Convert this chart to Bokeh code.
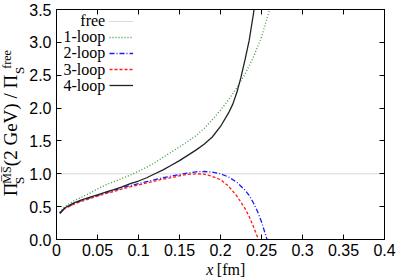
import math
from bokeh.plotting import figure
from bokeh.layouts import row, column
from bokeh.models import (Range1d, LinearAxis, FixedTicker, CustomJSTickFormatter,
                          Label, Legend, LegendItem)
from bokeh.core.properties import value
from bokeh.embed import file_html
from bokeh.resources import INLINE

# ---------------- data ----------------
x_free = [0.0, 0.4]
y_free = [1.0, 1.0]

x_1loop = [0.004, 0.01, 0.02, 0.03, 0.04, 0.05, 0.06, 0.07, 0.08, 0.09, 0.10, 0.11, 0.12,
           0.13, 0.14, 0.15, 0.16, 0.17, 0.18, 0.19, 0.20, 0.21, 0.22, 0.23, 0.24, 0.25,
           0.26, 0.265]
y_1loop = [0.41, 0.50, 0.58, 0.64, 0.70, 0.77, 0.83, 0.88, 0.93, 0.98, 1.04, 1.10, 1.17,
           1.25, 1.33, 1.41, 1.49, 1.58, 1.69, 1.82, 1.97, 2.13, 2.31, 2.52, 2.77, 3.08,
           3.50, 3.75]

x_2loop = [0.004, 0.01, 0.02, 0.03, 0.04, 0.05, 0.06, 0.07, 0.08, 0.09, 0.10, 0.11, 0.12,
           0.13, 0.14, 0.15, 0.16, 0.17, 0.18, 0.19, 0.20, 0.21, 0.22, 0.23, 0.235, 0.24,
           0.245, 0.25, 0.255, 0.258]
y_2loop = [0.40, 0.47, 0.54, 0.59, 0.63, 0.67, 0.71, 0.75, 0.79, 0.82, 0.85, 0.88, 0.91,
           0.94, 0.965, 0.99, 1.01, 1.03, 1.035, 1.025, 1.00, 0.95, 0.87, 0.75, 0.67, 0.56,
           0.43, 0.27, 0.07, -0.05]

x_3loop = [0.004, 0.01, 0.02, 0.03, 0.04, 0.05, 0.06, 0.07, 0.08, 0.09, 0.10, 0.11, 0.12,
           0.13, 0.14, 0.15, 0.16, 0.17, 0.18, 0.19, 0.20, 0.21, 0.22, 0.23, 0.235, 0.24,
           0.245, 0.248]
y_3loop = [0.40, 0.47, 0.53, 0.58, 0.62, 0.66, 0.70, 0.73, 0.77, 0.80, 0.83, 0.86, 0.89,
           0.92, 0.94, 0.97, 0.99, 1.00, 0.995, 0.96, 0.91, 0.81, 0.66, 0.47, 0.35, 0.20,
           0.04, -0.05]

x_4loop = [0.004, 0.01, 0.02, 0.03, 0.04, 0.05, 0.06, 0.07, 0.08, 0.09, 0.10, 0.11, 0.12,
           0.13, 0.14, 0.15, 0.16, 0.17, 0.18, 0.19, 0.20, 0.21, 0.215, 0.22, 0.225, 0.23,
           0.235, 0.24, 0.243]
y_4loop = [0.40, 0.48, 0.55, 0.60, 0.64, 0.68, 0.72, 0.76, 0.80, 0.85, 0.89, 0.94, 1.00,
           1.06, 1.13, 1.20, 1.28, 1.36, 1.45, 1.56, 1.72, 1.93, 2.06, 2.24, 2.47, 2.74,
           3.03, 3.42, 3.70]

x_ticks = [0.0, 0.05, 0.1, 0.15, 0.2, 0.25, 0.3, 0.35, 0.4]
y_ticks = [0.0, 0.5, 1.0, 1.5, 2.0, 2.5, 3.0, 3.5]
legend_names = ["free", "1-loop", "2-loop", "3-loop", "4-loop"]

# ---------------- layout (page pixels) ----------------
W, H = 398, 277
LW = 26                    # width of the y-label strip
BH = 16                    # height of the x-label strip
FL, FR, FT, FB = 54, 384, 9, 239   # plot frame edges in page pixels
XMIN, XMAX, YMIN, YMAX = 0.0, 0.4, 0.0, 3.5
MW, MH = W - LW, H - BH    # main figure size


def dx(px):
    return XMIN + (px - FL) / (FR - FL) * (XMAX - XMIN)


def dy(py):
    return YMIN + (FB - py) / (FB - FT) * (YMAX - YMIN)


p = figure(width=MW, height=MH, output_backend="svg", toolbar_location=None, title=None,
           x_range=Range1d(XMIN, XMAX), y_range=Range1d(YMIN, YMAX),
           min_border_left=FL - LW, min_border_right=W - FR,
           min_border_top=FT, min_border_bottom=MH - FB)
p.xgrid.visible = False
p.ygrid.visible = False
p.outline_line_color = "black"
p.outline_line_width = 1
p.background_fill_color = "white"
p.border_fill_color = "white"

xfmt = CustomJSTickFormatter(code="return String(Number(tick.toFixed(2)));")
yfmt = CustomJSTickFormatter(code="return tick.toFixed(1);")


def style(ax, ticks, fmt, labels=True):
    ax.ticker = FixedTicker(ticks=ticks)
    ax.formatter = fmt
    ax.major_tick_in = 5
    ax.major_tick_out = 0
    ax.minor_tick_line_color = None
    ax.axis_line_color = "black"
    ax.major_tick_line_color = "black"
    if labels:
        ax.major_label_text_font = "Liberation Sans"
        ax.major_label_text_font_size = "16px"
        ax.major_label_text_color = "black"
    else:
        ax.major_label_text_font_size = "0px"
        ax.major_label_text_color = None
        ax.major_label_standoff = 0


style(p.xaxis[0], x_ticks, xfmt)
p.xaxis[0].major_label_standoff = 4
style(p.yaxis[0], y_ticks, yfmt)
p.yaxis[0].major_label_standoff = 5

top_ax = LinearAxis()
style(top_ax, x_ticks, xfmt, labels=False)
p.add_layout(top_ax, "above")
right_ax = LinearAxis()
style(right_ax, y_ticks, yfmt, labels=False)
p.add_layout(right_ax, "right")

# ---------------- curves ----------------
r_free = p.line(x_free, y_free, line_color="#b4b4b4", line_width=1, line_dash="1 1")
r1 = p.line(x_1loop, y_1loop, line_color="#3a9a3a", line_width=1.3, line_dash="1 2")
r2 = p.line(x_2loop, y_2loop, line_color="#1a1aff", line_width=1.3, line_dash="5 2 1 2")
r3 = p.line(x_3loop, y_3loop, line_color="#ff1a1a", line_width=1.3, line_dash="3 2")
r4 = p.line(x_4loop, y_4loop, line_color="#222222", line_width=1.3)

# ---------------- legend (text right-aligned, sample on the right) ----------------
rows_top = 20.0
row_h = 16.2
legend = Legend(items=[LegendItem(label="", renderers=[r]) for r in [r_free, r1, r2, r3, r4]],
                location=(107 - FL, (FB - FT) - (rows_top - FT - row_h / 2) - 5 * row_h),
                glyph_width=24, glyph_height=int(row_h), label_width=0, label_height=int(row_h),
                label_standoff=0, spacing=0, padding=0, margin=0,
                label_text_font_size="8px",
                border_line_color=None, background_fill_alpha=0)
p.add_layout(legend, "center")

for i, name in enumerate(legend_names):
    p.add_layout(Label(x=dx(103), y=dy(rows_top + i * row_h), text=name,
                       text_align="right", text_baseline="middle",
                       text_font="Liberation Serif", text_font_size="16px",
                       text_color="black"))


def strip(w, h):
    f = figure(width=w, height=h, output_backend="svg", toolbar_location=None, title=None,
               x_range=Range1d(0, w), y_range=Range1d(0, h),
               x_axis_location=None, y_axis_location=None,
               min_border=0, min_border_left=0, min_border_right=0,
               min_border_top=0, min_border_bottom=0)
    f.grid.visible = False
    f.outline_line_color = None
    f.background_fill_color = "white"
    f.border_fill_color = "white"
    return f


# ---------------- y axis label strip: Pi_S^{MS-bar}(2 GeV) / Pi_S^{free} ----------------
ylab = strip(LW, H)
ypieces = [  # text, centre x (px), centre y (px from top), font size
    ("Π", 10, 189, "19px"),
    ("S", 18.5, 180, "13px"),
    ("M\u0305S\u0305", 6.6, 174.5, "12px"),
    ("(2 GeV) / Π", 10, 120, "19px"),
    ("S", 18.5, 70, "13px"),
    ("free", 6.6, 59, "12px"),
]
for t, cx, cy, fs in ypieces:
    ylab.text(x=[cx], y=[H - cy], text=[t], angle=math.pi / 2,
              text_align="center", text_baseline="middle",
              text_font=value("Liberation Serif"), text_font_size=fs, text_color="black")

# ---------------- x axis label strip ----------------
xlab = strip(MW, BH)
xpieces = [  # text, centre x (px), style
    ("x", 200, "italic"),
    ("[fm]", 224, "normal"),
]
for t, cx, st in xpieces:
    xlab.text(x=[cx - LW], y=[H - 268.5], text=[t], text_align="center",
              text_baseline="middle", text_font=value("Liberation Serif"),
              text_font_style=st, text_font_size="16px", text_color="black")

layout = row(ylab, column(p, xlab, spacing=0), spacing=0)
open("out.html", "w").write(file_html(layout, INLINE))
